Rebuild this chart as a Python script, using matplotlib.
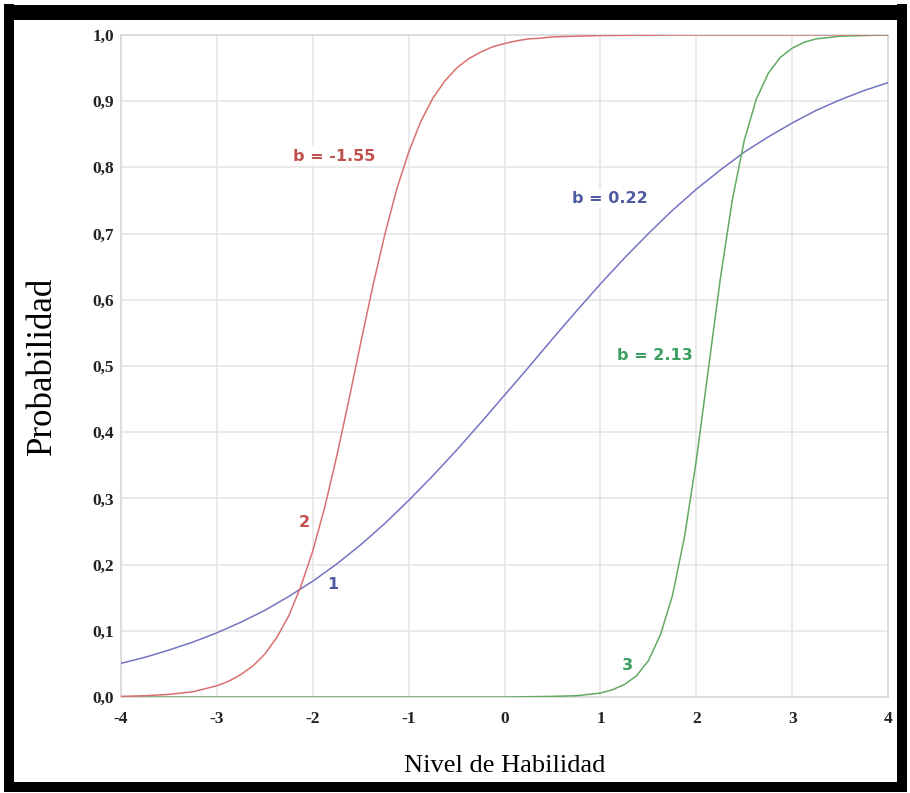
import matplotlib
matplotlib.use("Agg")
import matplotlib.pyplot as plt
from matplotlib.patches import Rectangle

# Curve 1 (b = 0.22)
x_blue = [-4, -3.75, -3.5, -3.25, -3, -2.75, -2.5, -2.25, -2, -1.75, -1.5, -1.25,
          -1, -0.75, -0.5, -0.25, 0, 0.25, 0.5, 0.75, 1, 1.25, 1.5, 1.75,
          2, 2.25, 2.5, 2.75, 3, 3.25, 3.5, 3.75, 4]
p_blue = [0.051, 0.060, 0.071, 0.083, 0.097, 0.113, 0.131, 0.152, 0.175, 0.201, 0.230, 0.262,
          0.297, 0.334, 0.373, 0.414, 0.456, 0.498, 0.541, 0.583, 0.624, 0.663, 0.700, 0.735,
          0.767, 0.796, 0.823, 0.846, 0.867, 0.886, 0.902, 0.916, 0.928]

# Curve 2 (b = -1.55)
x_red = [-4, -3.75, -3.5, -3.25, -3, -2.875, -2.75, -2.625, -2.5, -2.375, -2.25, -2.125,
         -2, -1.875, -1.75, -1.625, -1.5, -1.375, -1.25, -1.125, -1, -0.875, -0.75, -0.625,
         -0.5, -0.375, -0.25, -0.125, 0, 0.125, 0.25, 0.375, 0.5, 0.75, 1, 2, 3, 4]
p_red = [0.001, 0.002, 0.004, 0.008, 0.017, 0.024, 0.034, 0.047, 0.065, 0.090, 0.123, 0.167,
         0.221, 0.287, 0.364, 0.448, 0.535, 0.620, 0.698, 0.767, 0.823, 0.869, 0.904, 0.930,
         0.950, 0.964, 0.974, 0.982, 0.987, 0.991, 0.994, 0.995, 0.997, 0.998, 0.999, 1.0, 1.0, 1.0]

# Curve 3 (b = 2.13)
x_green = [-4, -2, 0, 0.5, 0.75, 1, 1.125, 1.25, 1.375, 1.5, 1.625, 1.75, 1.875,
           2, 2.125, 2.25, 2.375, 2.5, 2.625, 2.75, 2.875, 3, 3.125, 3.25, 3.375, 3.5, 3.75, 4]
p_green = [0.0, 0.0, 0.0, 0.001, 0.002, 0.006, 0.011, 0.019, 0.032, 0.055, 0.094, 0.153, 0.241,
           0.358, 0.495, 0.632, 0.751, 0.841, 0.903, 0.942, 0.966, 0.980, 0.989, 0.994, 0.996,
           0.998, 0.999, 1.0]

x_ticks = [-4, -3, -2, -1, 0, 1, 2, 3, 4]
y_ticks = [0.0, 0.1, 0.2, 0.3, 0.4, 0.5, 0.6, 0.7, 0.8, 0.9, 1.0]
y_labels = ["0,0", "0,1", "0,2", "0,3", "0,4", "0,5", "0,6", "0,7", "0,8", "0,9", "1,0"]

red_line, red_text = "#d97070", "#c0504d"
blue_line, blue_text = "#7474c4", "#4f5aa0"
green_line, green_text = "#62aa62", "#3d9f62"

W, H = 910, 793
fig = plt.figure(figsize=(W / 100, H / 100), dpi=100)
ax = fig.add_axes([0.133, 0.121, 0.843, 0.835])

ax.plot(x_blue, p_blue, color=blue_line, lw=1.1, zorder=3)
ax.plot(x_green, p_green, color=green_line, lw=1.1, zorder=3)
ax.plot(x_red, p_red, color=red_line, lw=1.1, zorder=3)

ax.set_xlim(-4, 4)
ax.set_ylim(0, 1)
ax.set_xticks(x_ticks)
ax.set_xticklabels([str(t) for t in x_ticks])
ax.set_yticks(y_ticks)
ax.set_yticklabels(y_labels)
ax.grid(True, color="#e6e6e6", lw=1.2)
ax.set_axisbelow(True)
for s in ax.spines.values():
    s.set_color("#d8d8d8")
    s.set_linewidth(1.2)
ax.tick_params(length=0, labelsize=12.5, labelcolor="#222222")
ax.tick_params(axis="x", pad=10)
ax.tick_params(axis="y", pad=5)
for lab in ax.get_xticklabels() + ax.get_yticklabels():
    lab.set_fontfamily("Liberation Serif")
    lab.set_fontweight("bold")

ax.set_xlabel("Nivel de Habilidad", fontfamily="Liberation Serif", fontsize=19, labelpad=20)
ax.set_ylabel("Probabilidad", fontfamily="Liberation Serif", fontsize=25, labelpad=24)

lab_kw = dict(fontfamily="DejaVu Sans", fontweight="bold", fontsize=11.5,
              ha="center", va="center", zorder=4)
box = dict(facecolor="white", edgecolor="none", pad=1.5, alpha=0.9)
ax.text(-1.78, 0.817, "b = -1.55", color=red_text, bbox=box, **lab_kw)
ax.text(1.10, 0.753, "b = 0.22", color=blue_text, bbox=box, **lab_kw)
ax.text(1.57, 0.516, "b = 2.13", color=green_text, bbox=box, **lab_kw)
ax.text(-2.09, 0.264, "2", color=red_text, **lab_kw)
ax.text(-1.79, 0.170, "1", color=blue_text, **lab_kw)
ax.text(1.28, 0.048, "3", color=green_text, **lab_kw)

# black frame round the picture (pixel bands: left, right, top, bottom)
for x0, y0, x1, y1 in [(4, 4, 14, 789), (897, 4, 907, 789), (4, 5, 907, 20), (4, 782, 907, 792)]:
    fig.patches.append(Rectangle((x0 / W, 1 - y1 / H), (x1 - x0) / W, (y1 - y0) / H,
                                 transform=fig.transFigure, facecolor="black",
                                 edgecolor="none", zorder=10))

fig.savefig("out.png", dpi=100)
